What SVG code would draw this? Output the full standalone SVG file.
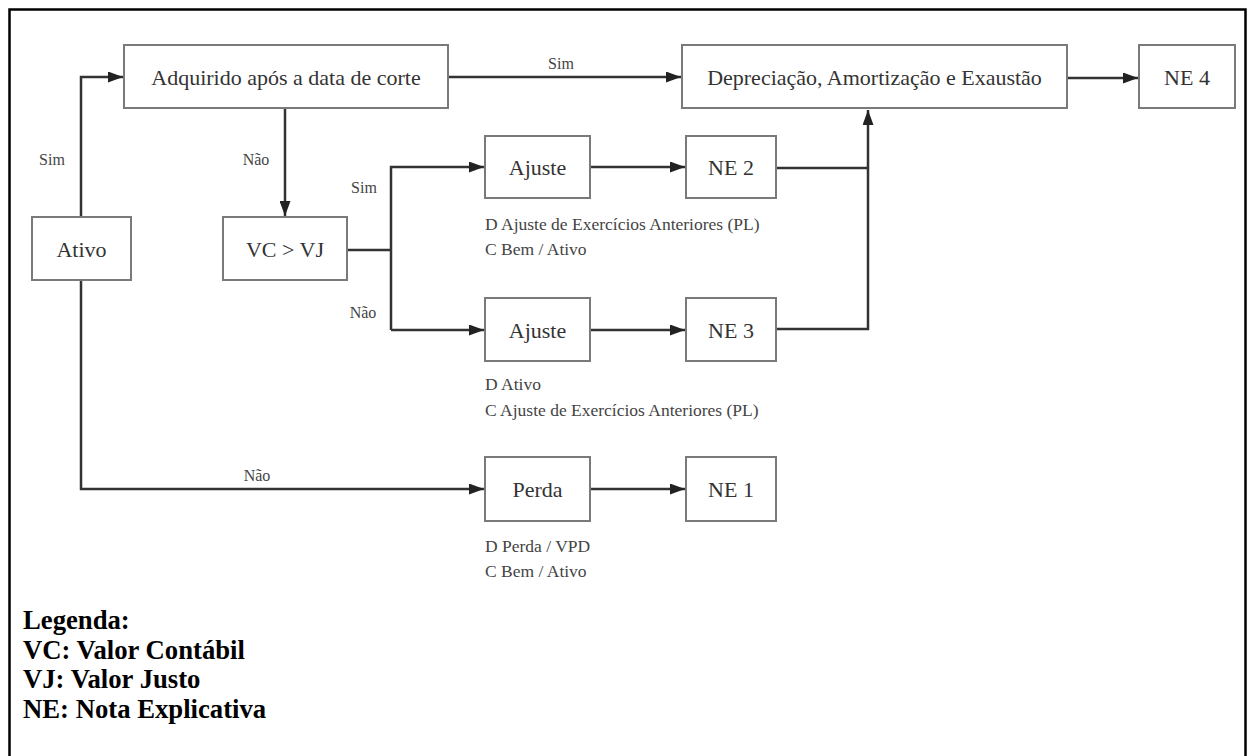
<svg xmlns="http://www.w3.org/2000/svg" width="1249" height="756" viewBox="0 0 1249 756">
<style>
.box{fill:#fff;stroke:#7a7a7a;stroke-width:2}
.lbl{font-family:"Liberation Serif",serif;font-size:22px;fill:#333;text-anchor:middle;dominant-baseline:central}
.sm{font-family:"Liberation Serif",serif;font-size:16px;fill:#444}
.ann{font-family:"Liberation Serif",serif;font-size:17.5px;fill:#444}
.con{fill:none;stroke:#333;stroke-width:2.5}
.leg{font-family:"Liberation Serif",serif;font-size:26.7px;font-weight:bold;fill:#000}
</style>
<defs>
<marker id="ah" markerWidth="15" markerHeight="11" refX="15" refY="5.5" orient="auto" markerUnits="userSpaceOnUse">
<path d="M0,0 L15,5.5 L0,11 Z" fill="#222"/>
</marker>
</defs>
<rect x="0" y="0" width="1249" height="756" fill="#fff"/>
<path d="M9.5,770 V9.5 H1245.5 V770" fill="none" stroke="#000" stroke-width="2.5"/>
<g id="connectors">
<path class="con" d="M81,217 V77 H123" marker-end="url(#ah)"/>
<path class="con" d="M285,109 V216" marker-end="url(#ah)"/>
<path class="con" d="M449,77 H681" marker-end="url(#ah)"/>
<path class="con" d="M1068,78 H1138" marker-end="url(#ah)"/>
<path class="con" d="M347,250 H391"/>
<path class="con" d="M391,330 V167 H484" marker-end="url(#ah)"/>
<path class="con" d="M391,330 H484" marker-end="url(#ah)"/>
<path class="con" d="M590,167 H685" marker-end="url(#ah)"/>
<path class="con" d="M590,330 H685" marker-end="url(#ah)"/>
<path class="con" d="M776,168 H868"/>
<path class="con" d="M776,329 H868 V110" marker-end="url(#ah)"/>
<path class="con" d="M81,280 V489 H484" marker-end="url(#ah)"/>
<path class="con" d="M590,489 H685" marker-end="url(#ah)"/>
<text class="sm" x="52" y="165" text-anchor="middle">Sim</text>
<text class="sm" x="256" y="165" text-anchor="middle">Não</text>
<text class="sm" x="561" y="69" text-anchor="middle">Sim</text>
<text class="sm" x="364" y="193" text-anchor="middle">Sim</text>
<text class="sm" x="363" y="318" text-anchor="middle">Não</text>
<text class="sm" x="257" y="481" text-anchor="middle">Não</text>
</g>
<g id="adquirido"><rect class="box" x="124" y="45" width="324" height="63"/><text class="lbl" x="286" y="77">Adquirido após a data de corte</text></g>
<g id="ativo"><rect class="box" x="32" y="217" width="99" height="63"/><text class="lbl" x="81.5" y="249">Ativo</text></g>
<g id="vcvj"><rect class="box" x="223" y="217" width="124" height="63"/><text class="lbl" x="285" y="249">VC &gt; VJ</text></g>
<g id="depreciacao"><rect class="box" x="682" y="45" width="385" height="63"/><text class="lbl" x="874.5" y="77">Depreciação, Amortização e Exaustão</text></g>
<g id="ne4"><rect class="box" x="1139" y="45" width="96" height="63"/><text class="lbl" x="1187" y="77">NE 4</text></g>
<g id="ajuste1"><rect class="box" x="485" y="136" width="105" height="62"/><text class="lbl" x="537.5" y="167">Ajuste</text>
<text class="ann" x="485" y="230">D Ajuste de Exercícios Anteriores (PL)</text><text class="ann" x="485" y="255">C Bem / Ativo</text></g>
<g id="ne2"><rect class="box" x="686" y="136" width="90" height="62"/><text class="lbl" x="731" y="167">NE 2</text></g>
<g id="ajuste2"><rect class="box" x="485" y="298" width="105" height="63"/><text class="lbl" x="537.5" y="330">Ajuste</text>
<text class="ann" x="485" y="390">D Ativo</text><text class="ann" x="485" y="416">C Ajuste de Exercícios Anteriores (PL)</text></g>
<g id="ne3"><rect class="box" x="686" y="298" width="90" height="63"/><text class="lbl" x="731" y="330">NE 3</text></g>
<g id="perda"><rect class="box" x="485" y="457" width="105" height="64"/><text class="lbl" x="537.5" y="489">Perda</text>
<text class="ann" x="485" y="552">D Perda / VPD</text><text class="ann" x="485" y="577">C Bem / Ativo</text></g>
<g id="ne1"><rect class="box" x="686" y="457" width="90" height="64"/><text class="lbl" x="731" y="489">NE 1</text></g>
<g id="legenda">
<text class="leg" x="23" y="629">Legenda:</text>
<text class="leg" x="23" y="659">VC: Valor Contábil</text>
<text class="leg" x="23" y="688">VJ: Valor Justo</text>
<text class="leg" x="23" y="718">NE: Nota Explicativa</text>
</g>
</svg>
